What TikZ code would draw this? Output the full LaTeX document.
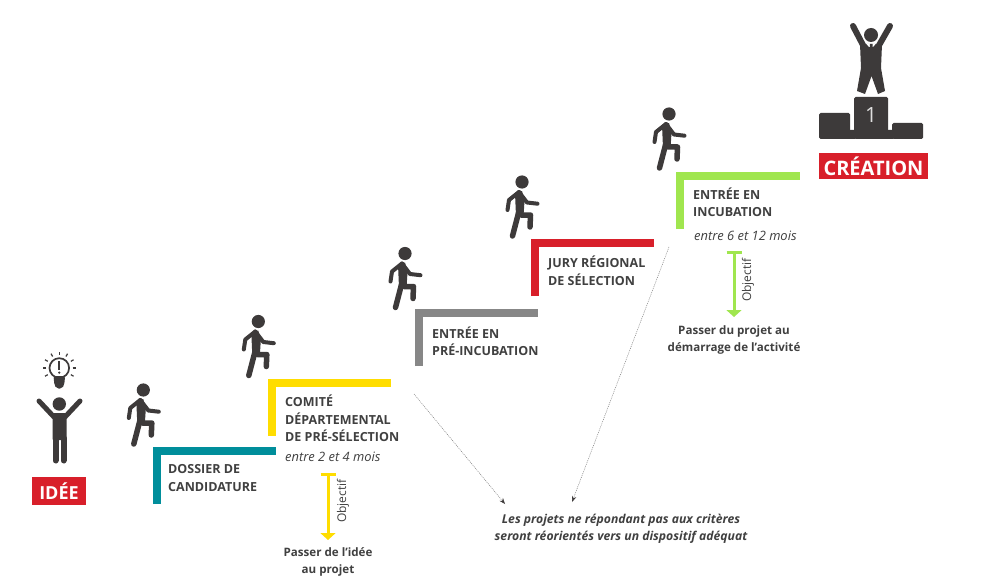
\documentclass[tikz,border=0pt]{standalone}
\usepackage{fontspec}
\setmainfont{Open Sans}
\usetikzlibrary{arrows.meta}
\definecolor{ink}{HTML}{3D3A3A}
\definecolor{txt}{HTML}{404040}
\definecolor{teal1}{HTML}{008E9B}
\definecolor{yel1}{HTML}{FFDD00}
\definecolor{gray1}{HTML}{878787}
\definecolor{red1}{HTML}{D81F2A}
\definecolor{green1}{HTML}{A0E64F}
\tikzset{
  stair/.style={line width=8pt,line join=miter,line cap=butt},
  steplabel/.style={anchor=west,inner sep=0pt,align=left,text=txt,font=\fontsize{12.5}{17.5}\selectfont\bfseries},
  delay/.style={anchor=west,inner sep=0pt,text=txt,font=\fontsize{12.9}{14}\selectfont\itshape},
  goal/.style={inner sep=0pt,align=center,text=txt,font=\fontsize{11.6}{17}\selectfont\bfseries},
  objarrow/.style={line width=3pt,{Bar[width=15pt,line width=3pt]}-{Triangle[width=15pt,length=7pt]}},
  objlabel/.style={rotate=90,inner sep=0pt,text=txt,font=\fontsize{12}{13}\selectfont},
  badge/.style={fill=red1,text=white,inner sep=0pt,font=\bfseries},
  reject/.style={line width=0.5pt,draw=gray,dash pattern=on 1pt off 1pt,-{Stealth[length=6pt,width=4.5pt,color=ink]}},
  walker/.pic={
    \fill[ink] (0,0) circle (6.6);
    \draw[ink,line width=4pt,line cap=round,line join=round] (-3,10) -- (-13,18) -- (-14.5,28);
    \draw[ink,line width=4pt,line cap=round,line join=round] (-3,10) -- (5,20.5) -- (15.5,21.7);
    \fill[ink] (-7,11) -- (0,9) -- (2.5,19) -- (1.5,34) -- (-6,34) -- cycle;
    \draw[ink,line width=5.5pt,line cap=round,line join=round] (-3.5,31) -- (-9.5,54);
    \draw[ink,line width=5.5pt,line cap=round,line join=round] (-1,33) -- (8.5,33) -- (8,45);
  },
}
\begin{document}
\begin{tikzpicture}[x=1pt,y=-1pt]
\useasboundingbox (0,0) rectangle (992,588);
\fill[white] (0,0) rectangle (992,588);
% stairs
\draw[stair,teal1]  (157,504) -- (157,451) -- (276,451);
\draw[stair,yel1]   (272,436) -- (272,383) -- (391,383);
\draw[stair,gray1]  (419,366) -- (419,313) -- (538,313);
\draw[stair,red1]   (535,296) -- (535,243) -- (654,243);
\draw[stair,green1] (680,229) -- (680,176) -- (800,176);
% walkers
\pic at (143.3,390) {walker};
\pic at (258.3,321.5) {walker};
\pic at (405,253.5) {walker};
\pic at (522,182) {walker};
\pic at (669,114) {walker};
% step labels
\node[steplabel] (dossier) at (168,478) {DOSSIER DE\\CANDIDATURE};
\node[steplabel] (comite) at (285,418.5) {COMITÉ\\DÉPARTEMENTAL\\DE PRÉ-SÉLECTION};
\node[delay] (delaya) at (285,457) {entre 2 et 4 mois};
\node[steplabel] (preinc) at (432,341) {ENTRÉE EN\\PRÉ-INCUBATION};
\node[steplabel] (jury) at (548,270.5) {JURY RÉGIONAL\\DE SÉLECTION};
\node[steplabel] (incub) at (693,202) {ENTRÉE EN\\INCUBATION};
\node[delay] (delayb) at (694,236) {entre 6 et 12 mois};
% objectives
\coordinate (oa1) at (328,473);
\coordinate (oa2) at (328,540);
\coordinate (ob1) at (734,251);
\coordinate (ob2) at (734,317);
\draw[objarrow,yel1] (oa1) -- (oa2);
\draw[objarrow,green1] (ob1) -- (ob2);
\node[objlabel] (obja) at (343,501) {Objectif};
\node[objlabel] (objb) at (748,280) {Objectif};
\node[goal] (goala) at (328,561.5) {Passer de l’idée\\au projet};
\node[goal] (goalb) at (734,339.5) {Passer du projet au\\démarrage de l’activité};
% reorientation
\node[inner sep=0pt,align=center,text=txt,font=\fontsize{12.2}{17}\selectfont\bfseries\itshape] (reor) at (621,528.5) {Les projets ne répondant pas aux critères\\seront réorientés vers un dispositif adéquat};
\coordinate (ra) at (414,394);
\coordinate (rb) at (669,247);
\coordinate (rae) at (505,504);
\coordinate (rbe) at (572,502);
\draw[reject] (ra) -- (rae);
\draw[reject] (rb) -- (rbe);
% idee figure
\fill[ink] (59.3,404) circle (6.7);
\draw[ink,line width=5pt,line cap=round,line join=round] (39,401) -- (54,417) (80,401) -- (65,417);
\fill[ink,rounded corners=1pt] (52.5,413) -- (66.5,413) -- (66.5,440) -- (52.5,440) -- cycle;
\draw[ink,line width=6pt,line cap=round] (55.5,438) -- (55.5,460.5) (63.5,438) -- (63.5,460.5);
% bulb
\draw[ink,line width=1.7pt] (59.3,368) circle (9.8);
\fill[ink,rounded corners=2pt] (53.5,376) -- (65.1,376) -- (64.2,385) -- (62,388.5) -- (56.6,388.5) -- (54.4,385) -- cycle;
\draw[ink,line width=2.2pt] (59.3,361) -- (59.3,369.5);
\fill[ink] (59.3,372.6) circle (1.3);
\foreach \a in {-30,-60,-90,-120,-150,0,180,30,150}
  \draw[ink,line width=1.2pt] (59.3,368) ++(\a:13.3) -- ++(\a:3.2);
\node[badge,minimum width=54pt,minimum height=28pt,font=\fontsize{18}{20}\selectfont\bfseries] (idee) at (59,491) {IDÉE};
% winner
\fill[ink] (871,35) circle (7);
\draw[ink,line width=6pt,line cap=round,line join=round] (853,26) -- (864,47) (890,26) -- (878,47);
\fill[ink] (860,44) -- (882,44) -- (881,68) -- (885,91) -- (878,94) -- (871.5,76) -- (865,94) -- (857,91) -- (861,68) -- cycle;
\fill[white] (866,43.5) -- (876,43.5) -- (873,47) -- (869,47) -- cycle;
\fill[ink] (870,44) -- (872.5,44) -- (873,52) -- (871.2,54) -- (869.5,52) -- cycle;
% podium
\fill[ink,rounded corners=1.5pt] (854,97) rectangle (888,139);
\fill[ink,rounded corners=1.5pt] (819,113) rectangle (850,139);
\fill[ink,rounded corners=1.5pt] (892,123) rectangle (923,139);
\fill[ink] (849,130) rectangle (855,139) (887,130) rectangle (893,139);
\node[inner sep=0pt,text=gray!25,font=\fontsize{21}{22}\selectfont] (first) at (871,115) {1};
\node[badge,minimum width=109pt,minimum height=26pt,font=\fontsize{20}{22}\selectfont\bfseries] (creation) at (873.5,166) {CRÉATION};
\end{tikzpicture}
\end{document}
